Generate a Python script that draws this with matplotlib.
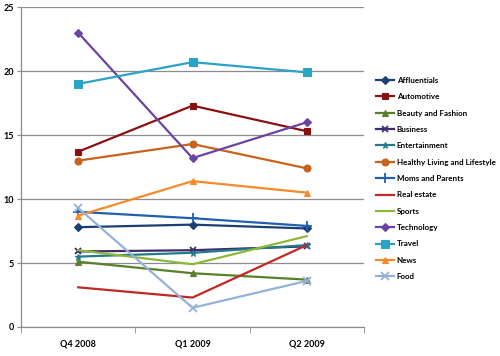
import matplotlib
matplotlib.use("Agg")
import matplotlib.pyplot as plt
from matplotlib.ticker import FixedLocator

quarters = ["Q4 2008", "Q1 2009", "Q2 2009"]
series_names = ["Affluentials", "Automotive", "Beauty and Fashion", "Business",
                "Entertainment", "Healthy Living and Lifestyle", "Moms and Parents",
                "Real estate", "Sports", "Technology", "Travel", "News", "Food"]
affluentials = [7.8, 8.0, 7.7]
automotive = [13.7, 17.3, 15.3]
beauty = [5.1, 4.2, 3.7]
business = [5.9, 6.0, 6.3]
entertainment = [5.5, 5.8, 6.4]
healthy = [13.0, 14.3, 12.4]
moms = [9.0, 8.5, 7.9]
real_estate = [3.1, 2.3, 6.4]
sports = [6.0, 4.9, 7.1]
technology = [23.0, 13.2, 16.0]
travel = [19.0, 20.7, 19.9]
news = [8.7, 11.4, 10.5]
food = [9.3, 1.5, 3.6]

values = [affluentials, automotive, beauty, business, entertainment, healthy,
          moms, real_estate, sports, technology, travel, news, food]
colors = ["#1b3f73", "#8b1010", "#5a7f2a", "#3f2a6e", "#227a8a", "#c8621c",
          "#2160b0", "#c02828", "#8cb83a", "#6b43a0", "#2ba3c6", "#f58a2a", "#95b1d8"]
markers = ["D", "s", "^", "x", "*", "o", "+", None, None, "D", "s", "^", "x"]
msizes = [4, 5, 5, 5, 5, 5, 7, 0, 0, 4, 6, 5, 6]

plt.rcParams['font.family'] = ['Lato', 'DejaVu Sans']
fig = plt.figure(figsize=(5.0, 3.56), dpi=100)
ax = fig.add_axes([0.042, 0.0815, 0.686, 0.8985])

x = list(range(len(quarters)))
for name, vals, c, m, ms in zip(series_names, values, colors, markers, msizes):
    ax.plot(x, vals, color=c, lw=1.6, marker=m, markersize=ms,
            markeredgewidth=1.3 if m in ("x", "+") else 0.8,
            markeredgecolor=c, label=name)

ax.set_xlim(-0.5, 2.5)
ax.set_ylim(0, 25)
ax.set_yticks([0, 5, 10, 15, 20, 25])
ax.yaxis.grid(True, color="#8c8c8c", lw=0.9)
ax.set_axisbelow(True)
ax.set_xticks(x)
ax.set_xticklabels(quarters, fontsize=6.5, fontweight="bold")
ax.xaxis.set_minor_locator(FixedLocator([-0.5, 0.5, 1.5, 2.5]))
ax.tick_params(axis="x", which="major", length=0, pad=9)
ax.tick_params(axis="x", which="minor", length=4, color="#8c8c8c", direction="out")
ax.tick_params(axis="y", labelsize=6.5, length=3, color="#8c8c8c", pad=2)
for lab in ax.get_yticklabels():
    lab.set_fontweight("bold")
for s in ["top", "right"]:
    ax.spines[s].set_visible(False)
for s in ["left", "bottom"]:
    ax.spines[s].set_color("#8c8c8c")
    ax.spines[s].set_linewidth(0.9)

fig.legend(loc="upper left", bbox_to_anchor=(0.745, 0.793), frameon=False,
           prop={"size": 5.8, "weight": "bold"}, handlelength=2.3,
           handletextpad=0.3, labelspacing=1.16, borderaxespad=0)

fig.savefig("out.png", dpi=100)
